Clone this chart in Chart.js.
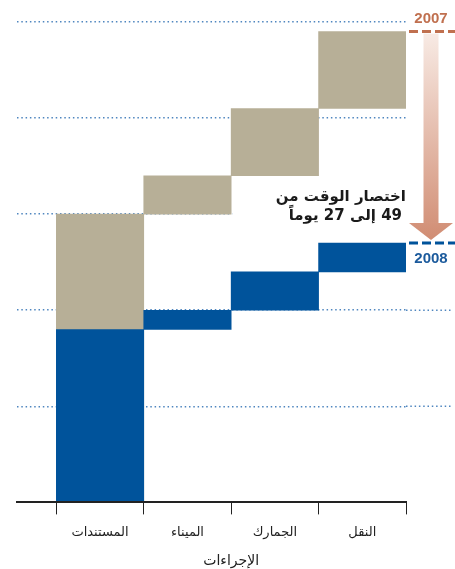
<!DOCTYPE html>
<html lang="ar">
<head>
<meta charset="utf-8">
<script src="https://cdn.jsdelivr.net/npm/chart.js@4.4.1/dist/chart.umd.min.js"></script>
<style>
  html, body { margin: 0; padding: 0; background: #fff; }
</style>
</head>
<body>
<canvas id="chart" width="455" height="569"></canvas>
<script>
// days per step, in the order the steps happen
var steps = ['المستندات', 'الميناء', 'الجمارك', 'النقل'];
var days2007 = [30, 4, 7, 8];
var days2008 = [18, 2, 4, 3];
var yTicks = [0, 10, 20, 30, 40, 50];
var years = ['2007', '2008'];

var GREY = '#b7af97';
var BLUE = '#00539b';
var RUST = '#c0704f';
var GRID = '#4f86bf';
var AR_FONT = "'DejaVu Sans', sans-serif";

// each step starts where the previous one ended
function floating(values) {
  var run = 0;
  return values.map(function (v, i) {
    var bar = { x: i + 0.5, y: [run, run + v] };
    run += v;
    return bar;
  });
}
function total(values) {
  return values.reduce(function (a, b) { return a + b; }, 0);
}
var total2007 = total(days2007);
var total2008 = total(days2008);

function line(ctx, x1, y1, x2, y2) {
  ctx.beginPath();
  ctx.moveTo(x1, y1);
  ctx.lineTo(x2, y2);
  ctx.stroke();
}

// Arabic: first word on the right, each next one to its left
function wordsRightToLeft(ctx, words, xRight, y) {
  var gap = ctx.measureText(' ').width;
  var x = xRight;
  ctx.textAlign = 'right';
  words.forEach(function (w) {
    ctx.fillText(w, x, y);
    x -= ctx.measureText(w).width + gap;
  });
}

// year markers, arrow and the note beside it
var annotations = {
  id: 'annotations',
  afterDraw: function (chart) {
    var ctx = chart.ctx;
    var xs = chart.scales.x, ys = chart.scales.y;
    var area = chart.chartArea;
    var y07 = ys.getPixelForValue(total2007);
    var y08 = ys.getPixelForValue(total2008);
    var cx = 431;

    ctx.save();

    // lower grid lines carry on past the plot
    ctx.strokeStyle = GRID;
    ctx.lineWidth = 1.5;
    ctx.setLineDash([1.5, 2.8]);
    [10, 20].forEach(function (v) {
      var py = ys.getPixelForValue(v);
      line(ctx, area.right, py, chart.width - 3, py);
    });

    // arrow from the 2007 total down to the 2008 total
    var headTop = y08 - 20;
    var grad = ctx.createLinearGradient(0, y07, 0, y08);
    grad.addColorStop(0, '#f8ebe5');
    grad.addColorStop(1, '#d08b71');
    ctx.fillStyle = grad;
    ctx.fillRect(cx - 7.5, y07 + 2, 15, headTop - y07 - 2);
    ctx.beginPath();
    ctx.moveTo(cx - 22, headTop);
    ctx.lineTo(cx + 22, headTop);
    ctx.lineTo(cx, y08 - 3);
    ctx.closePath();
    ctx.fill();

    // dashed year lines
    ctx.lineWidth = 3;
    ctx.setLineDash([9, 4]);
    ctx.strokeStyle = RUST;
    line(ctx, area.right + 3, y07, chart.width, y07);
    ctx.strokeStyle = BLUE;
    line(ctx, area.right + 3, y08, chart.width, y08);
    ctx.setLineDash([]);

    ctx.font = "bold 15px 'Liberation Sans', Arial, sans-serif";
    ctx.textAlign = 'center';
    ctx.textBaseline = 'middle';
    ctx.fillStyle = RUST;
    ctx.fillText(years[0], cx, y07 - 13);
    ctx.fillStyle = '#1b5a9c';
    ctx.fillText(years[1], cx, y08 + 16);

    // note on the saving
    ctx.fillStyle = '#fff';
    ctx.fillRect(xs.getPixelForValue(2) + 1, 182, area.right - xs.getPixelForValue(2) - 1, 46);
    ctx.fillStyle = '#1a1a1a';
    ctx.font = 'bold 15px ' + AR_FONT;
    wordsRightToLeft(ctx, ['اختصار', 'الوقت', 'من'], area.right, 197);
    wordsRightToLeft(ctx, [String(total2007), 'إلى', String(total2008), 'يوماً'], area.right - 4, 216);

    // axis title, centred under the steps
    ctx.font = '14px ' + AR_FONT;
    ctx.textAlign = 'center';
    ctx.fillStyle = '#222';
    ctx.fillText('الإجراءات', (xs.getPixelForValue(0) + xs.getPixelForValue(steps.length)) / 2, 561);

    ctx.restore();
  }
};

new Chart(document.getElementById('chart'), {
  type: 'bar',
  data: {
    datasets: [{
      label: years[1],
      data: floating(days2008),
      backgroundColor: BLUE,
      borderWidth: 0,
      barPercentage: 1,
      categoryPercentage: 1,
      stack: 'steps'
    }, {
      label: years[0],
      data: floating(days2007),
      backgroundColor: GREY,
      borderWidth: 0,
      barPercentage: 1,
      categoryPercentage: 1,
      stack: 'steps'
    }]
  },
  options: {
    responsive: false,
    animation: false,
    devicePixelRatio: 1,
    layout: {
      padding: { left: 17, right: 49, top: 22, bottom: 19 }
    },
    plugins: {
      legend: { display: false },
      tooltip: { enabled: false }
    },
    scales: {
      x: {
        type: 'linear',
        position: 'bottom',
        min: -0.45,
        max: steps.length,
        stacked: true,
        offset: false,
        weight: 0,
        afterBuildTicks: function (scale) {
          scale.ticks = steps.concat(['']).map(function (s, i) { return { value: i }; });
        },
        ticks: { display: false },
        grid: {
          offset: false,
          drawOnChartArea: false,
          drawTicks: true,
          tickLength: 12,
          color: '#222',
          lineWidth: 1
        },
        border: { display: true, color: '#222', width: 2, z: 1 }
      },
      labels: {
        type: 'linear',
        position: 'bottom',
        min: -0.45,
        max: steps.length,
        offset: false,
        weight: 1,
        afterBuildTicks: function (scale) {
          scale.ticks = steps.map(function (s, i) { return { value: i + 0.5 }; });
        },
        ticks: {
          autoSkip: false,
          maxRotation: 0,
          padding: 10,
          color: '#222',
          font: { family: AR_FONT, size: 13 },
          callback: function (value, index) { return steps[index]; }
        },
        grid: { display: false, drawTicks: false, offset: false },
        border: { display: false }
      },
      y: {
        min: yTicks[0],
        max: yTicks[yTicks.length - 1],
        stacked: false,
        afterBuildTicks: function (scale) {
          scale.ticks = yTicks.map(function (v) { return { value: v }; });
        },
        ticks: { display: false },
        grid: {
          drawTicks: false,
          color: function (c) { return c.tick && c.tick.value === 0 ? 'rgba(0,0,0,0)' : GRID; },
          lineWidth: 1.5
        },
        border: { display: false, dash: [1.5, 2.8] }
      }
    }
  },
  plugins: [annotations]
});
</script>
</body>
</html>
